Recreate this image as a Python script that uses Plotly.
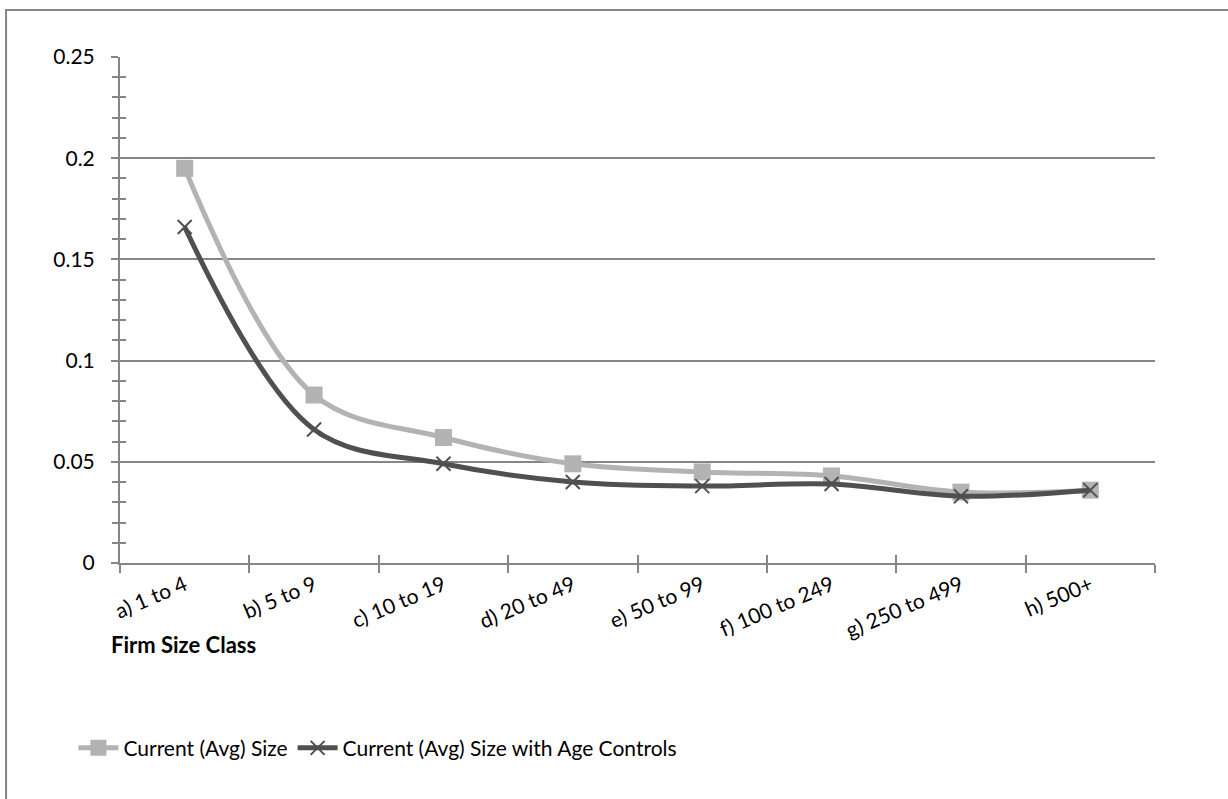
import plotly.graph_objects as go

categories = ["a) 1 to 4", "b) 5 to 9", "c) 10 to 19", "d) 20 to 49",
              "e) 50 to 99", "f) 100 to 249", "g) 250 to 499", "h) 500+"]
avg_size = [0.195, 0.083, 0.062, 0.049, 0.045, 0.043, 0.035, 0.036]
avg_size_age = [0.166, 0.066, 0.049, 0.040, 0.038, 0.039, 0.033, 0.036]
series_names = ["Current (Avg) Size", "Current (Avg) Size with Age Controls"]
y_tick_vals = [0, 0.05, 0.1, 0.15, 0.2, 0.25]
y_tick_text = ["0", "0.05", "0.1", "0.15", "0.2", "0.25"]
x_title = "Firm Size Class"

FONT = "Lato, Open Sans, sans-serif"
AX = "#868686"
FS = 21

fig = go.Figure()
fig.add_trace(go.Scatter(
    x=categories, y=avg_size, name=series_names[0], mode="lines+markers",
    line=dict(color="#B3B3B3", width=5, shape="spline", smoothing=1),
    marker=dict(symbol="square", size=17, color="#B3B3B3"),
))
fig.add_trace(go.Scatter(
    x=categories, y=avg_size_age, name=series_names[1], mode="lines+markers",
    line=dict(color="#505050", width=5, shape="spline", smoothing=1),
    marker=dict(symbol="x-thin", size=14, line=dict(color="#505050", width=2), color="#505050"),
))

fig.update_layout(
    width=1228, height=799,
    margin=dict(l=120, r=73, t=57, b=236),
    paper_bgcolor="white", plot_bgcolor="white",
    font=dict(family=FONT, size=FS, color="black"),
    showlegend=True,
    legend=dict(orientation="h", x=-0.045, y=-0.366, xanchor="left", yanchor="middle",
                font=dict(size=FS), itemwidth=40, tracegroupgap=0),
    xaxis=dict(
        type="category", categoryarray=categories, range=[-0.5, 7.5],
        showline=True, linecolor=AX, linewidth=2,
        ticks="outside", tickson="boundaries", ticklen=8, tickcolor=AX, tickwidth=2,
        tickangle=-23, showgrid=False, zeroline=False,
        tickfont=dict(size=FS),
    ),
    xaxis2=dict(
        overlaying="x", range=[-0.5, 7.5], tick0=-0.5, dtick=1,
        ticks="inside", ticklen=8, tickcolor=AX, tickwidth=2,
        showticklabels=False, showgrid=False, zeroline=False, showline=False,
        side="bottom",
    ),
    yaxis=dict(
        range=[0, 0.25], tickvals=y_tick_vals, ticktext=y_tick_text,
        showline=True, linecolor=AX, linewidth=2,
        ticks="outside", ticklen=7, tickcolor=AX, tickwidth=2,
        minor=dict(ticks="outside", dtick=0.01, ticklen=6, tickcolor=AX, tickwidth=1.5, showgrid=False),
        showgrid=True, gridcolor=AX, gridwidth=1.5, zeroline=False,
        ticklabelstandoff=12, tickfont=dict(size=FS),
    ),
    yaxis2=dict(
        overlaying="y", range=[0, 0.25], tickvals=y_tick_vals,
        ticks="inside", ticklen=7, tickcolor=AX, tickwidth=2,
        minor=dict(ticks="inside", dtick=0.01, ticklen=6, tickcolor=AX, tickwidth=1.5, showgrid=False),
        showticklabels=False, showgrid=False, zeroline=False, showline=False,
    ),
)

# invisible trace to activate overlay axes
fig.add_trace(go.Scatter(x=[None], y=[None], xaxis="x2", yaxis="y2", showlegend=False, hoverinfo="skip"))

fig.add_annotation(text="<b>" + x_title + "</b>", xref="paper", yref="paper",
                   x=0.061, y=-0.162, xanchor="center", yanchor="middle",
                   showarrow=False, font=dict(size=FS + 1, family=FONT))

# outer chart border
fig.add_shape(type="rect", xref="paper", yref="paper",
              x0=-0.1101, x1=1.2, y0=-0.6, y1=1.0929,
              line=dict(color=AX, width=2), fillcolor="rgba(0,0,0,0)", layer="below")

fig.write_html("out.html")
